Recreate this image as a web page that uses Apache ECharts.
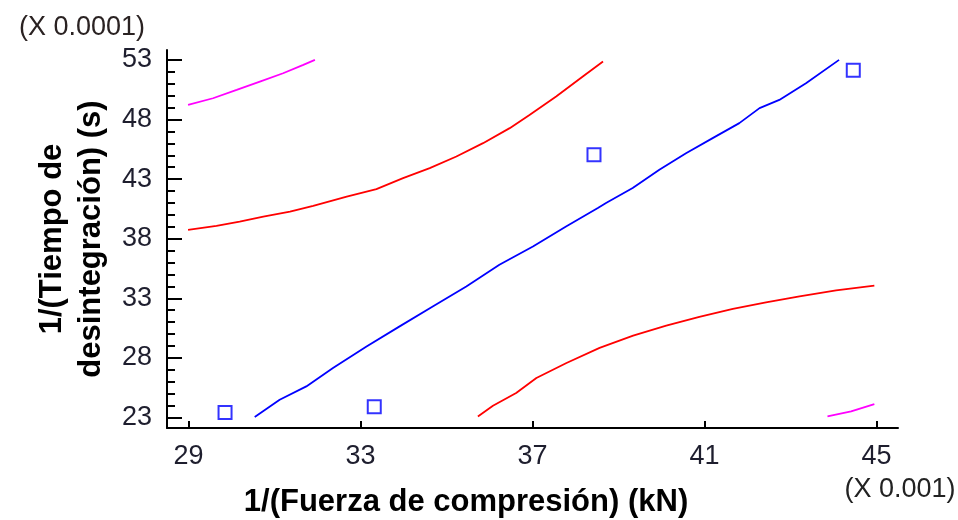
<!DOCTYPE html>
<html>
<head>
<meta charset="utf-8">
<script src="https://cdn.jsdelivr.net/npm/echarts@6/dist/echarts.min.js"></script>
<style>
html,body{margin:0;padding:0;background:#fff;}
#chart{width:958px;height:520px;}
</style>
</head>
<body>
<div id="chart"></div>
<script>
// Observed points (x in 0.001, y in 0.0001)
var obsX = [29.85, 33.32, 38.43, 44.46];
var obsY = [23.42, 23.90, 45.04, 52.13];

// Fitted line
var fitX = [30.54, 31.12, 31.74, 32.36, 33.14, 33.91, 34.68, 35.46, 36.23, 37.01, 37.78, 38.52, 38.71, 39.33, 39.95, 40.57, 41.19, 41.81, 42.28, 42.74, 43.36, 44.13];
var fitY = [23.03, 24.48, 25.60, 27.14, 28.96, 30.64, 32.31, 33.99, 35.81, 37.35, 39.03, 40.57, 40.99, 42.25, 43.78, 45.18, 46.44, 47.70, 48.96, 49.65, 51.05, 53.01];

// Confidence limits (upper / lower)
var confUpX = [28.99, 29.65, 30.19, 30.74, 31.36, 31.90, 32.68, 33.37, 33.99, 34.61, 35.23, 35.85, 36.47, 36.93, 37.55, 38.17, 38.64];
var confUpY = [38.75, 39.08, 39.44, 39.86, 40.28, 40.76, 41.54, 42.16, 43.08, 43.92, 44.90, 46.02, 47.28, 48.39, 49.93, 51.61, 52.87];
var confLoX = [35.73, 36.08, 36.62, 37.09, 37.79, 38.56, 39.34, 40.11, 40.88, 41.66, 42.43, 43.21, 44.06, 44.95];
var confLoY = [23.08, 23.98, 25.05, 26.31, 27.57, 28.83, 29.86, 30.70, 31.43, 32.10, 32.65, 33.15, 33.66, 34.07];

// Prediction limits (upper / lower)
var predUpX = [28.99, 29.57, 30.12, 30.66, 31.20, 31.67, 31.94];
var predUpY = [49.23, 49.79, 50.49, 51.19, 51.89, 52.59, 53.01];
var predLoX = [43.86, 44.41, 44.95];
var predLoY = [23.08, 23.50, 24.12];

// Axis ticks
var xTicks = [29, 33, 37, 41, 45];
var yMajorTicks = [23, 28, 33, 38, 43, 48, 53];
var yMinorTicks = [24, 25, 26, 27, 29, 30, 31, 32, 34, 35, 36, 37, 39, 40, 41, 42, 44, 45, 46, 47, 49, 50, 51, 52];

var xTitle = '1/(Fuerza de compresión) (kN)';
var yTitle = '1/(Tiempo de\ndesintegración) (s)';
var xScaleNote = '(X 0.001)';
var yScaleNote = '(X 0.0001)';

function zip(a, b) { return a.map(function (v, i) { return [v, b[i]]; }); }

var FONT = 'Liberation Sans, Arial, sans-serif';
var chart = echarts.init(document.getElementById('chart'), null, {renderer: 'canvas'});

function lineSeries(xs, ys, color) {
  return {
    type: 'line', data: zip(xs, ys), showSymbol: false, symbol: 'none',
    lineStyle: {color: color, width: 1.8}, animation: false, z: 3
  };
}

chart.setOption({
  animation: false,
  backgroundColor: '#ffffff',
  title: [
    {text: xTitle, left: 461, top: 482, textAlign: 'center',
     textStyle: {fontFamily: FONT, fontSize: 31, fontWeight: 'bold', color: '#000'}},
    {text: xScaleNote, left: 895, top: 471, textAlign: 'center',
     textStyle: {fontFamily: FONT, fontSize: 27, fontWeight: 'normal', color: '#222'}},
    {text: yScaleNote, left: 14, top: 9,
     textStyle: {fontFamily: FONT, fontSize: 27, fontWeight: 'normal', color: '#2a2222'}}
  ],
  grid: {left: 167, top: 50, width: 731, height: 378, containLabel: false, outerBoundsMode: 'none'},
  xAxis: {
    type: 'value', min: 28.5, max: 45.5,
    splitLine: {show: false},
    axisLine: {show: true, onZero: false, lineStyle: {color: '#000', width: 2}},
    axisTick: {show: true, inside: true, length: 7, customValues: xTicks, lineStyle: {color: '#000', width: 2}},
    axisLabel: {customValues: xTicks, margin: 15, fontFamily: FONT, fontSize: 27, color: '#1e1e2e'}
  },
  yAxis: [
    {
      type: 'value', min: 22.11, max: 53.84,
      splitLine: {show: false},
      axisLine: {show: true, onZero: false, lineStyle: {color: '#000', width: 2}},
      axisTick: {show: true, inside: true, length: 15, customValues: yMajorTicks, lineStyle: {color: '#000', width: 2}},
      axisLabel: {customValues: yMajorTicks, margin: 15, fontFamily: FONT, fontSize: 27, color: '#1e1e2e'},
      name: yTitle, nameLocation: 'middle', nameRotate: 90, nameGap: 55,
      nameTextStyle: {fontFamily: FONT, fontSize: 31, fontWeight: 'bold', color: '#000', lineHeight: 39, align: 'center'}
    },
    {
      type: 'value', min: 22.11, max: 53.84, position: 'left',
      splitLine: {show: false},
      axisLine: {show: false},
      axisTick: {show: true, inside: true, length: 8, customValues: yMinorTicks, lineStyle: {color: '#000', width: 2}},
      axisLabel: {show: false}
    }
  ],
  series: [
    lineSeries(predUpX, predUpY, '#ff00ff'),
    lineSeries(predLoX, predLoY, '#ff00ff'),
    lineSeries(confUpX, confUpY, '#ff0000'),
    lineSeries(confLoX, confLoY, '#ff0000'),
    lineSeries(fitX, fitY, '#0000ff'),
    {
      type: 'scatter', data: zip(obsX, obsY), symbol: 'rect', symbolSize: 13,
      itemStyle: {color: 'rgba(255,255,255,0)', borderColor: '#0000ff', borderWidth: 2}, z: 4
    }
  ]
});
</script>
</body>
</html>
